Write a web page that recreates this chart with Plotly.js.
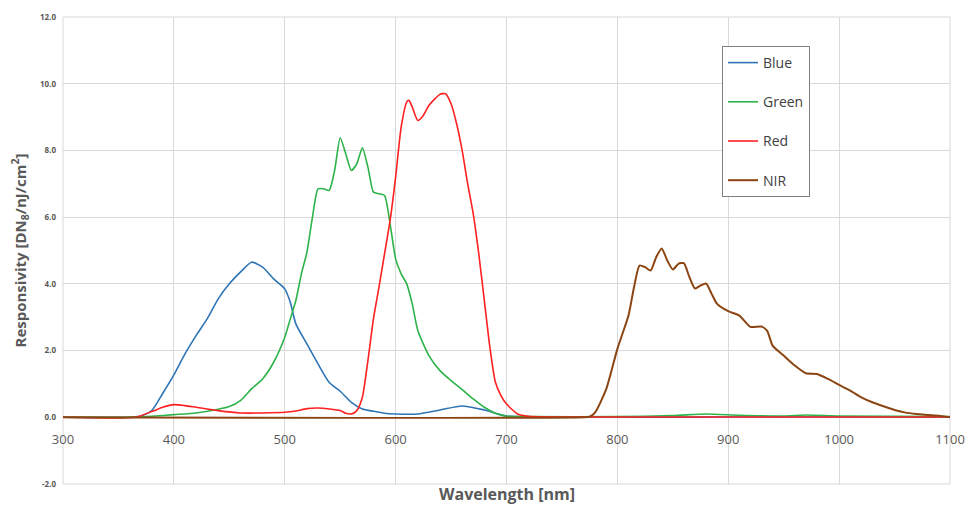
<!DOCTYPE html>
<html>
<head>
<meta charset="utf-8">
<script src="https://cdn.plot.ly/plotly-3.0.1.min.js"></script>
<style>html,body{margin:0;padding:0;background:#fff;}#chart{width:968px;height:506px;}</style>
</head>
<body>
<div id="chart"></div>
<script>
// ---- data ----
const seriesNames = ["Blue", "Green", "Red", "NIR"];

const blueWl = [300,360,370,380,390,400,410,420,430,440,450,460,470,480,490,500,505,510,520,530,540,550,560,570,580,590,600,620,640,660,680,700,750,800,900,1000,1100];
const blueResp = [0,0,0.03,0.2,0.72,1.27,1.9,2.45,2.95,3.55,4.0,4.35,4.65,4.5,4.15,3.85,3.45,2.8,2.2,1.6,1.05,0.78,0.45,0.25,0.18,0.12,0.10,0.10,0.22,0.34,0.22,0.04,0.01,0.0,0.01,0.01,0.0];

const greenWl = [300,360,380,400,420,440,450,460,470,480,490,500,505,510,515,520,525,530,535,540,545,550,555,560,565,570,575,580,585,590,595,600,605,610,615,620,630,640,650,660,670,680,690,700,720,800,850,880,910,950,970,1000,1100];
const greenResp = [0,0,0.03,0.08,0.13,0.24,0.32,0.5,0.85,1.15,1.65,2.4,2.95,3.5,4.3,4.95,6.0,6.85,6.85,6.8,7.4,8.38,7.9,7.4,7.6,8.08,7.5,6.75,6.7,6.65,5.8,4.75,4.3,4.0,3.4,2.6,1.85,1.4,1.1,0.83,0.55,0.3,0.12,0.03,0.02,0.02,0.05,0.1,0.06,0.04,0.07,0.04,0.02];

const redWl = [300,365,380,390,400,410,420,440,460,480,500,510,520,530,540,550,555,560,565,570,575,580,585,590,595,600,605,610,612,615,620,625,630,640,645,650,655,660,665,670,675,680,685,690,695,700,710,720,800,1100];
const redResp = [0,0,0.17,0.3,0.38,0.35,0.3,0.2,0.13,0.13,0.15,0.19,0.26,0.28,0.25,0.2,0.12,0.1,0.2,0.6,1.7,2.95,3.9,4.9,5.9,7.2,8.7,9.45,9.5,9.3,8.9,9.05,9.35,9.68,9.7,9.4,8.8,8.0,7.0,6.1,4.9,3.5,2.1,1.05,0.65,0.4,0.1,0.03,0.01,0.01];

const nirWl = [300,770,775,780,790,800,810,815,820,825,830,835,840,845,850,855,860,865,870,875,880,885,890,900,910,920,930,935,940,950,960,970,980,990,1000,1010,1020,1030,1040,1050,1060,1070,1080,1090,1100];
const nirResp = [0,0,0.02,0.15,0.85,2.05,3.05,3.9,4.55,4.5,4.4,4.8,5.06,4.7,4.43,4.6,4.62,4.2,3.86,3.95,4.01,3.7,3.4,3.18,3.05,2.71,2.72,2.6,2.15,1.85,1.55,1.32,1.3,1.15,0.97,0.8,0.6,0.45,0.33,0.22,0.14,0.1,0.07,0.05,0.0];

const xTicks = [300,400,500,600,700,800,900,1000,1100];
const yTicks = [-2,0,2,4,6,8,10,12];
const yTickText = ["-2.0","0.0","2.0","4.0","6.0","8.0","10.0","12.0"];

// ---- chart ----
const colors = ["#2E75B6", "#2DB34A", "#FF2020", "#8B4513"];
const xs = [blueWl, greenWl, redWl, nirWl];
const ys = [blueResp, greenResp, redResp, nirResp];

const traces = seriesNames.map((n, i) => ({
  type: "scatter",
  mode: "lines",
  name: n,
  x: xs[i],
  y: ys[i],
  line: {color: colors[i], width: i === 3 ? 2 : 1.6, shape: "spline", smoothing: 0.6},
  legendgroup: "g" + i,
  hoverinfo: "x+y+name"
}));

const font = "Open Sans, Noto Sans, DejaVu Sans, sans-serif";

const layout = {
  width: 968,
  height: 506,
  margin: {l: 63, r: 18, t: 17, b: 22},
  paper_bgcolor: "#ffffff",
  plot_bgcolor: "#ffffff",
  font: {family: font, color: "#595959"},
  showlegend: true,
  legend: {
    x: (722 - 63) / 887,
    y: (484 - 46) / 467,
    xanchor: "left",
    yanchor: "top",
    bgcolor: "#ffffff",
    bordercolor: "#7f7f7f",
    borderwidth: 1,
    font: {family: font, size: 14, color: "#404040"},
    traceorder: "grouped",
    tracegroupgap: 18,
    itemwidth: 30
  },
  xaxis: {
    range: [300, 1100],
    tickvals: xTicks,
    ticktext: xTicks.map(String),
    showgrid: true,
    gridcolor: "#d9d9d9",
    gridwidth: 1,
    zeroline: false,
    showline: false,
    ticks: "",
    anchor: "free",
    position: 2 / 14,
    tickfont: {family: font, size: 13, color: "#595959"},
    ticklabelstandoff: 13
  },
  yaxis: {
    range: [-2, 12],
    tickvals: yTicks,
    ticktext: yTickText,
    showgrid: true,
    gridcolor: "#d9d9d9",
    gridwidth: 1,
    zeroline: false,
    showline: false,
    ticks: "",
    tickfont: {family: font, size: 8, color: "#595959", weight: "bold"},
    ticklabelstandoff: 6
  },
  shapes: [{
    type: "rect", xref: "paper", yref: "paper", x0: 0, x1: 1, y0: 0, y1: 1,
    line: {color: "#d9d9d9", width: 1}, layer: "below"
  }],
  annotations: [
    {
      text: "Responsivity [DN<sub>8</sub>/nJ/cm<sup>2</sup>]",
      xref: "paper", yref: "paper",
      x: (20 - 63) / 887, y: 0.5,
      xanchor: "center", yanchor: "middle",
      textangle: -90, showarrow: false,
      font: {family: font, size: 15, color: "#595959", weight: "bold"}
    },
    {
      text: "Wavelength [nm]",
      xref: "paper", yref: "paper",
      x: 0.5, y: (484 - 494) / 467,
      xanchor: "center", yanchor: "middle",
      showarrow: false,
      font: {family: font, size: 16, color: "#595959", weight: "bold"}
    }
  ]
};

Plotly.newPlot("chart", traces, layout, {displayModeBar: false, staticPlot: true});
</script>
</body>
</html>
